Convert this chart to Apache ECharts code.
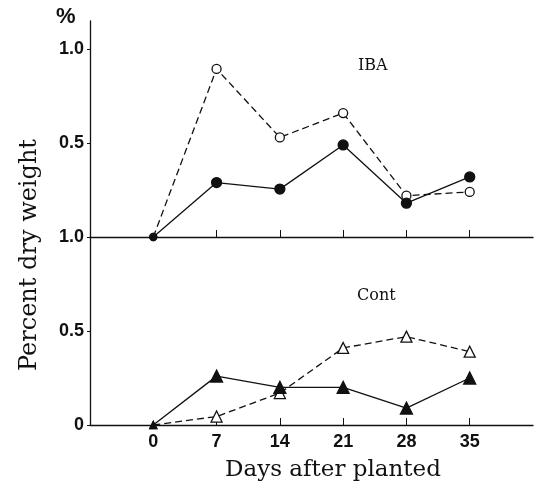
<!DOCTYPE html>
<html>
<head>
<meta charset="utf-8">
<script src="https://cdn.jsdelivr.net/npm/echarts@6/dist/echarts.min.js"></script>
<style>
  html, body { margin: 0; padding: 0; background: #fff; }
  #chart { width: 537px; height: 494px; }
</style>
</head>
<body>
<div id="chart"></div>
<script>
// days after planting
const days = [0, 7, 14, 21, 28, 35]
// IBA panel (percent dry weight)
const ibaOpen = [0, 0.895, 0.53, 0.66, 0.22, 0.24]
const ibaFilled = [0, 0.29, 0.255, 0.49, 0.18, 0.32]
// Cont panel
const contOpen = [0, 0.045, 0.17, 0.41, 0.47, 0.39]
const contFilled = [0, 0.26, 0.2, 0.2, 0.09, 0.25]
// tick values
const dayTicks = [0, 7, 14, 21, 28, 35]

const chart = echarts.init(document.getElementById('chart'))

const pair = (ys) => days.map((d, i) => [d, ys[i]])

const tickFont = { fontFamily: 'Liberation Sans', fontWeight: 'bold', fontSize: 18, color: '#111' }
const axisLine = { show: true, onZero: false, lineStyle: { color: '#111', width: 1.3 } }

// x axis, shared setup
const makeX = (gridIndex, showLabel) => ({
  type: 'value',
  gridIndex: gridIndex,
  min: -7,
  max: 42,
  interval: 7,
  splitLine: { show: false },
  axisLine: axisLine,
  axisTick: { show: true, inside: true, length: 7, customValues: dayTicks.slice(1), lineStyle: { color: '#111' } },
  axisLabel: showLabel ? Object.assign({ show: true, margin: 8, customValues: dayTicks }, tickFont) : { show: false }
})

// the starting point (day 0) is drawn small, as in the original
const makeSeries = (idx, ys, dashed, symbol, size, filled) => ({
  type: 'line',
  xAxisIndex: idx,
  yAxisIndex: idx,
  data: pair(ys),
  symbol: symbol,
  symbolSize: (val) => val[0] === 0 ? 7 : size,
  showSymbol: true,
  lineStyle: { color: '#111', width: 1.3, type: dashed ? [7, 4] : 'solid' },
  itemStyle: { color: filled ? '#111' : '#fff', borderColor: '#111', borderWidth: 1.3 },
  z: filled ? 3 : 2
})

const option = {
  animation: false,
  backgroundColor: '#fff',
  grid: [
    { left: 90, width: 443, top: 21, height: 216 },
    { left: 90, width: 443, top: 237, height: 188 }
  ],
  xAxis: [makeX(0, false), makeX(1, true)],
  yAxis: [
    {
      type: 'value', gridIndex: 0, min: 0, max: 1.15, interval: 0.5,
      splitLine: { show: false },
      axisLine: axisLine,
      axisTick: { show: true, length: 3, lineStyle: { color: '#111' } },
      axisLabel: Object.assign({
        margin: 6,
        showMaxLabel: false,
        formatter: (v) => (v === 0 || v > 1.01) ? '' : v.toFixed(1)
      }, tickFont)
    },
    {
      type: 'value', gridIndex: 1, min: 0, max: 1.0, interval: 0.5,
      splitLine: { show: false },
      axisLine: axisLine,
      axisTick: { show: true, length: 3, lineStyle: { color: '#111' } },
      axisLabel: Object.assign({
        margin: 6,
        formatter: (v) => v === 0 ? '0' : v.toFixed(1)
      }, tickFont)
    }
  ],
  graphic: [
    { type: 'text', left: 56, top: 6, style: { text: '%', font: 'bold 22px "Liberation Sans"', fill: '#111' } },
    { type: 'text', left: 358, top: 58, style: { text: 'IBA', font: '16px "DejaVu Serif"', fill: '#111' } },
    { type: 'text', left: 357, top: 288, style: { text: 'Cont', font: '16px "DejaVu Serif"', fill: '#111' } },
    { type: 'text', x: 333, y: 470, style: { text: 'Days after planted', font: '23px "DejaVu Serif"', fill: '#111', align: 'center', verticalAlign: 'middle' } },
    { type: 'text', x: 30, y: 255, rotation: Math.PI / 2, style: { text: 'Percent dry weight', font: '24px "DejaVu Serif"', fill: '#111', align: 'center', verticalAlign: 'middle' } }
  ],
  series: [
    makeSeries(0, ibaOpen, true, 'circle', 9, false),
    makeSeries(0, ibaFilled, false, 'circle', 10, true),
    makeSeries(1, contOpen, true, 'triangle', 11, false),
    makeSeries(1, contFilled, false, 'triangle', 12, true)
  ]
}

chart.setOption(option)
</script>
</body>
</html>
